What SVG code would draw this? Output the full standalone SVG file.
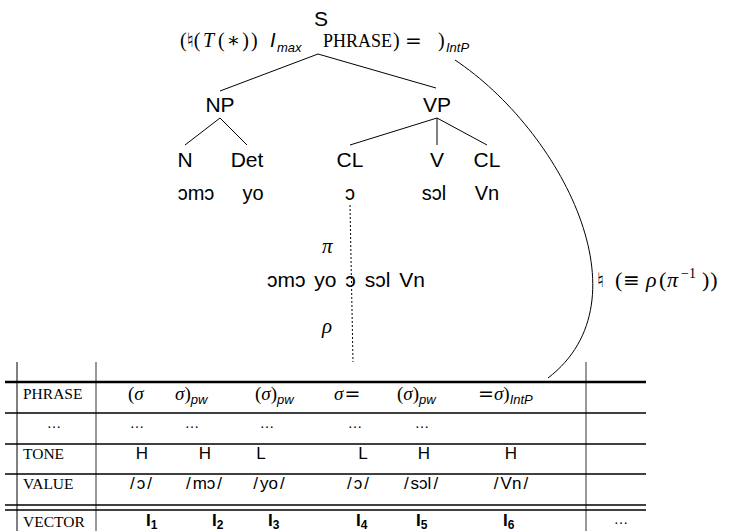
<svg xmlns="http://www.w3.org/2000/svg" width="732" height="531" viewBox="0 0 732 531">
  <style>
    .sf { font-family: "Liberation Sans", "DejaVu Sans", sans-serif; fill: #000; }
    .rm { font-family: "Liberation Serif", "DejaVu Serif", serif; fill: #000; }
    .sym { font-family: "DejaVu Sans", sans-serif; fill: #000; }
    .it { font-style: italic; }
    .bf { font-weight: bold; }
    .lbl { font-size: 21px; text-anchor: middle; }
    .word { font-size: 20px; text-anchor: middle; }
    .cell { font-size: 17px; text-anchor: middle; }
    .sc { font-family: "Liberation Serif", "DejaVu Serif", serif; font-size: 15.5px; }
    .sub { font-family: "Liberation Sans", "DejaVu Sans", sans-serif; font-style: italic; font-size: 13px; }
    .edge { stroke: #000; stroke-width: 1; fill: none; }
    .rule { stroke: #000; stroke-width: 1.6; }
    .rule-top { stroke: #000; stroke-width: 2.4; }
    .vgray { stroke: #777; stroke-width: 1.5; }
    .vblack { stroke: #000; stroke-width: 1; }
  </style>

  <!-- root annotation line -->
  <g id="root-annotation" font-size="20">
    <text class="rm" x="180" y="47">(<tspan class="sym">♮</tspan>(</text>
    <text class="rm it" x="203" y="47">T</text>
    <text class="rm" x="218" y="47" letter-spacing="2">(∗))</text>
    <text class="sf it" x="270" y="47">I</text>
    <text class="sub" font-size="14" x="277" y="52">max</text>
    <text class="rm" font-size="18" x="323" y="47">PHRASE</text>
    <text class="rm" x="393" y="47">)</text>
    <text class="sym" x="405" y="47">=</text>
    <text class="rm" x="438" y="47">)</text>
    <text class="sub" font-size="14" x="446" y="52">IntP</text>
  </g>

  <!-- tree nodes -->
  <g id="node-S"><text class="sf lbl" x="321" y="26">S</text></g>
  <g id="node-NP"><text class="sf lbl" x="220" y="112">NP</text></g>
  <g id="node-VP"><text class="sf lbl" x="437" y="112">VP</text></g>
  <g id="node-N"><text class="sf lbl" x="185" y="167">N</text></g>
  <g id="node-Det"><text class="sf lbl" x="247" y="167">Det</text></g>
  <g id="node-CL1"><text class="sf lbl" x="350" y="167">CL</text></g>
  <g id="node-V"><text class="sf lbl" x="437" y="167">V</text></g>
  <g id="node-CL2"><text class="sf lbl" x="487" y="167">CL</text></g>

  <!-- leaf words -->
  <g id="leaves">
    <text class="sf word" x="196" y="200">ɔmɔ</text>
    <text class="sf word" x="253" y="200">yo</text>
    <text class="sf word" x="350" y="200">ɔ</text>
    <text class="sf word" x="434" y="200">sɔl</text>
    <text class="sf word" x="487" y="200">Vn</text>
  </g>

  <!-- linearised string with mapping labels -->
  <g id="node-string">
    <text class="sf" font-size="21" x="267" y="287" word-spacing="3">ɔmɔ yo ɔ sɔl Vn</text>
  </g>
  <g id="node-pi"><text class="rm it" font-size="21" x="322" y="253">π</text></g>
  <g id="node-rho"><text class="rm it" font-size="21" x="322" y="333">ρ</text></g>
  <g id="node-natural" font-size="22">
    <text class="sym" font-size="20" x="597" y="287">♮</text>
    <text class="rm" x="615" y="287">(</text>
    <text class="sym" font-size="20" x="623" y="287">≡</text>
    <text class="rm it" x="646" y="287">ρ</text>
    <text class="rm" x="659" y="287">(</text>
    <text class="rm it" x="667" y="287">π</text>
    <text class="rm" font-size="14" x="681" y="278">−1</text>
    <text class="rm" x="702" y="287" letter-spacing="1">))</text>
  </g>

  <!-- connectors -->
  <g id="connectors">
    <line class="edge" x1="318" y1="54" x2="220" y2="91"/>
    <line class="edge" x1="318" y1="54" x2="436" y2="88"/>
    <line class="edge" x1="220" y1="118" x2="185" y2="145"/>
    <line class="edge" x1="220" y1="118" x2="247" y2="145"/>
    <line class="edge" x1="437" y1="118" x2="350" y2="145"/>
    <line class="edge" x1="437" y1="118" x2="437" y2="145"/>
    <line class="edge" x1="437" y1="118" x2="487" y2="145"/>
    <line class="edge" x1="350" y1="205" x2="353" y2="362" stroke-dasharray="2 2"/>
    <path class="edge" d="M455,60 C560,130 650,300 548,378"/>
  </g>

  <!-- table -->
  <g id="table">
    <line class="vblack" x1="17" y1="362" x2="17" y2="531"/>
    <line class="vgray" x1="96" y1="362" x2="96" y2="531"/>
    <line class="vgray" x1="586" y1="362" x2="586" y2="531"/>
    <line class="rule-top" x1="5" y1="382" x2="646" y2="382"/>
    <line class="rule" x1="5" y1="413" x2="646" y2="413"/>
    <line class="rule" x1="5" y1="444" x2="646" y2="444"/>
    <line class="rule" x1="5" y1="474" x2="646" y2="474"/>
    <line class="rule" x1="5" y1="505" x2="646" y2="505"/>
    <line class="rule" x1="5" y1="510" x2="646" y2="510"/>

    <text class="sc" x="23" y="399">PHRASE</text>
    <text class="rm" font-size="14" x="54" y="428" text-anchor="middle">…</text>
    <text class="sc" x="23" y="459">TONE</text>
    <text class="sc" x="23" y="489">VALUE</text>
    <text class="sc" x="23" y="527">VECTOR</text>

    <!-- phrase row -->
    <g class="rm" font-size="19">
      <text x="128" y="400">(<tspan class="it">σ</tspan></text>
      <text x="175" y="400"><tspan class="it">σ</tspan>)<tspan class="sub" dy="4">pw</tspan></text>
      <text x="255" y="400">(<tspan class="it">σ</tspan>)<tspan class="sub" dy="4">pw</tspan></text>
      <text x="334" y="400"><tspan class="it">σ</tspan><tspan class="sym" dx="1">=</tspan></text>
      <text x="397" y="400">(<tspan class="it">σ</tspan>)<tspan class="sub" dy="4">pw</tspan></text>
      <text x="478" y="400"><tspan class="sym">=</tspan><tspan class="it">σ</tspan>)<tspan class="sub" dy="4">IntP</tspan></text>
    </g>

    <!-- elided row -->
    <g class="rm" font-size="14" text-anchor="middle">
      <text x="137" y="428">…</text>
      <text x="192" y="428">…</text>
      <text x="267" y="428">…</text>
      <text x="355" y="428">…</text>
      <text x="422" y="428">…</text>
    </g>

    <!-- tone row -->
    <g class="sf cell">
      <text x="142" y="459">H</text>
      <text x="205" y="459">H</text>
      <text x="261" y="459">L</text>
      <text x="363" y="459">L</text>
      <text x="424" y="459">H</text>
      <text x="511" y="459">H</text>
    </g>

    <!-- value row -->
    <g class="sf cell" font-size="18">
      <text x="141" y="489">/<tspan dx="2">ɔ</tspan><tspan dx="2">/</tspan></text>
      <text x="204" y="489">/<tspan dx="2">mɔ</tspan><tspan dx="2">/</tspan></text>
      <text x="269" y="489">/<tspan dx="2">yo</tspan><tspan dx="2">/</tspan></text>
      <text x="358" y="489">/<tspan dx="2">ɔ</tspan><tspan dx="2">/</tspan></text>
      <text x="421" y="489">/<tspan dx="2">sɔl</tspan><tspan dx="2">/</tspan></text>
      <text x="511" y="489">/<tspan dx="2">Vn</tspan><tspan dx="2">/</tspan></text>
    </g>

    <!-- vector row -->
    <g class="sf bf" font-size="17">
      <text x="146" y="526">I<tspan font-size="12" dy="3">1</tspan></text>
      <text x="212" y="526">I<tspan font-size="12" dy="3">2</tspan></text>
      <text x="268" y="526">I<tspan font-size="12" dy="3">3</tspan></text>
      <text x="356" y="526">I<tspan font-size="12" dy="3">4</tspan></text>
      <text x="416" y="526">I<tspan font-size="12" dy="3">5</tspan></text>
      <text x="503" y="526">I<tspan font-size="12" dy="3">6</tspan></text>
    </g>
    <text class="rm" font-size="14" x="621" y="524" text-anchor="middle">…</text>
  </g>
</svg>
